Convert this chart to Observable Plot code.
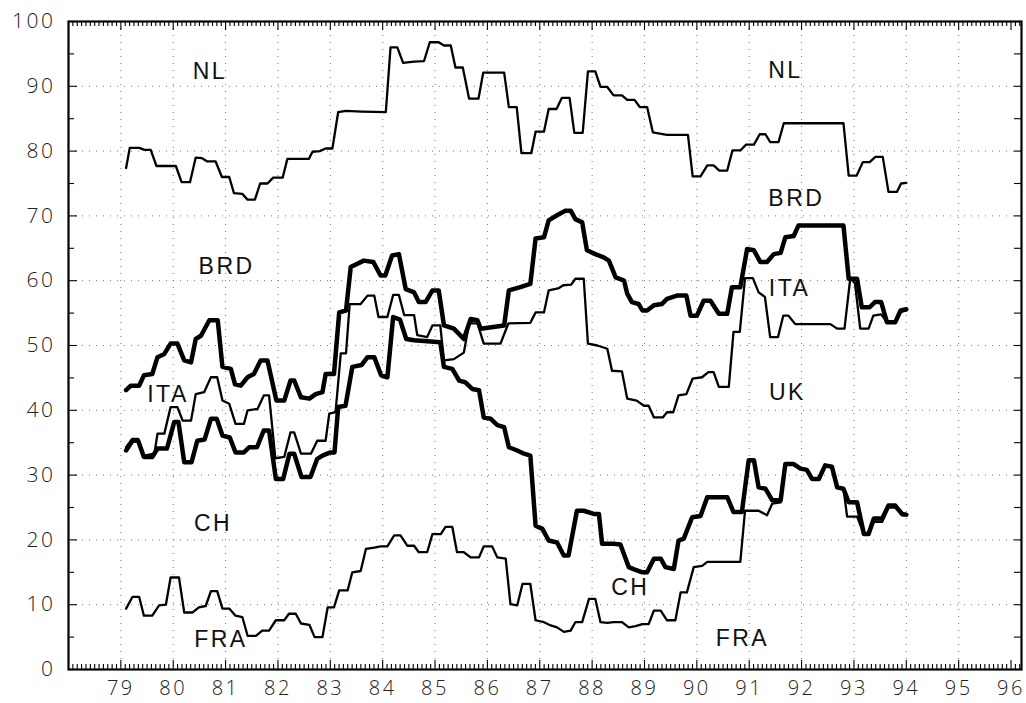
<!DOCTYPE html>
<html><head><meta charset="utf-8">
<script src="https://cdn.jsdelivr.net/npm/d3@7"></script>
<script src="https://cdn.jsdelivr.net/npm/@observablehq/plot@0.6"></script>
<style>
html,body{margin:0;padding:0;background:#fff;}
#chart svg{display:block;background:#fff;}
g[aria-label="y-axis tick label"] text, g[aria-label="x-axis tick label"] text{letter-spacing:2.5px;}
g[aria-label="text"] text{letter-spacing:2.5px;}
</style></head><body><div id="chart"></div>
<script>
// ---- data (years as decimal, e.g. 84.5 = mid 1984) ----
const nlYear = [79.1,79.17,79.35,79.45,79.57,79.68,80.05,80.16,80.32,80.43,80.55,80.65,80.81,80.93,81.07,81.16,81.32,81.42,81.56,81.66,81.8,81.91,82.09,82.18,82.59,82.66,82.8,82.91,83.04,83.15,83.3,83.6,84.06,84.15,84.28,84.39,84.6,84.79,84.9,85.07,85.17,85.3,85.39,85.53,85.65,85.83,85.92,86.32,86.41,86.56,86.65,86.84,86.92,87.08,87.17,87.32,87.42,87.57,87.66,87.82,87.92,88.06,88.16,88.29,88.41,88.57,88.67,88.81,88.91,89.05,89.16,89.43,89.83,89.92,90.07,90.2,90.32,90.43,90.58,90.68,90.83,90.94,91.09,91.2,91.31,91.4,91.56,91.66,92.8,92.9,93.05,93.17,93.3,93.41,93.55,93.66,93.82,93.9,94.0];
const nlValue = [77.4,80.5,80.5,80.2,80.2,77.7,77.7,75.2,75.2,79.0,78.9,78.4,78.4,76.0,76.0,73.5,73.4,72.5,72.5,75.0,75.0,75.9,75.9,78.8,78.8,79.9,80.0,80.4,80.4,86.0,86.2,86.1,86.0,96.0,96.0,93.6,93.8,93.9,96.8,96.8,96.3,96.3,92.9,92.9,88.1,88.1,92.1,92.1,86.8,86.8,79.7,79.7,83.0,83.0,86.5,86.5,88.2,88.2,82.8,82.8,92.3,92.3,89.9,89.9,88.6,88.6,87.9,87.9,86.8,86.8,82.9,82.5,82.5,76.1,76.1,77.8,77.8,77.0,77.0,80.1,80.1,81.0,81.0,82.6,82.6,81.4,81.4,84.3,84.3,76.2,76.2,78.3,78.3,79.1,79.1,73.7,73.7,75.0,75.1];

const brdYear = [79.1,79.19,79.35,79.44,79.6,79.7,79.83,79.95,80.08,80.21,80.34,80.43,80.53,80.69,80.85,80.94,81.1,81.18,81.29,81.42,81.54,81.67,81.8,81.97,82.12,82.24,82.31,82.44,82.6,82.72,82.85,82.91,83.07,83.17,83.3,83.39,83.64,83.82,83.96,84.05,84.18,84.31,84.44,84.6,84.69,84.82,84.95,85.07,85.17,85.36,85.55,85.68,85.81,85.87,86.32,86.41,86.63,86.82,86.92,87.08,87.17,87.33,87.49,87.59,87.68,87.81,87.9,88.06,88.22,88.32,88.45,88.61,88.67,88.76,88.89,88.96,89.05,89.18,89.33,89.43,89.62,89.8,89.88,90.0,90.13,90.26,90.42,90.58,90.67,90.83,90.96,91.09,91.21,91.34,91.47,91.6,91.69,91.85,91.94,92.8,92.9,93.06,93.15,93.3,93.4,93.52,93.63,93.79,93.89,94.0];
const brdValue = [43.1,43.8,43.8,45.4,45.6,48.2,48.7,50.3,50.3,47.7,47.4,51.0,51.5,53.9,53.9,46.7,46.4,44.0,43.8,45.1,45.6,47.7,47.7,41.5,41.5,44.6,44.6,42.0,41.8,42.5,42.8,45.6,45.6,55.1,55.4,62.1,63.1,62.9,60.8,60.8,63.9,64.1,58.7,58.2,56.7,56.7,58.5,58.5,53.1,52.6,51.0,54.1,53.9,52.6,53.1,58.5,59.0,59.5,66.5,66.7,69.3,70.1,70.8,70.8,69.5,69.0,64.7,64.1,63.6,63.1,60.5,60.0,58.0,56.7,56.4,55.4,55.4,56.2,56.4,57.2,57.7,57.7,54.6,54.6,56.9,56.9,54.9,54.9,59.0,59.0,64.9,64.7,62.9,62.9,64.1,64.3,66.7,66.9,68.5,68.5,60.3,60.3,55.9,55.9,56.7,56.7,53.6,53.6,55.4,55.6];

const itaYear = [79.1,79.22,79.33,79.44,79.64,79.7,79.83,79.95,80.08,80.18,80.34,80.43,80.59,80.72,80.84,80.94,81.07,81.19,81.35,81.42,81.61,81.73,81.83,81.95,82.12,82.24,82.31,82.44,82.63,82.75,82.91,82.98,83.1,83.2,83.3,83.37,83.58,83.71,83.84,83.92,84.09,84.2,84.31,84.41,84.6,84.66,84.85,84.95,85.1,85.17,85.36,85.55,85.65,85.81,85.93,86.25,86.4,86.82,86.92,87.08,87.17,87.35,87.45,87.6,87.68,87.84,87.92,88.1,88.29,88.38,88.57,88.67,88.85,88.99,89.08,89.18,89.35,89.43,89.55,89.65,89.8,89.92,90.1,90.22,90.32,90.42,90.61,90.7,90.82,90.92,91.07,91.18,91.3,91.4,91.55,91.65,91.75,91.88,92.55,92.68,92.82,92.93,93.02,93.12,93.28,93.37,93.52,93.63,93.79,93.9,94.0];
const itaValue = [34.3,35.6,35.6,33.0,33.3,36.4,36.4,40.5,40.5,38.4,38.4,42.5,42.8,45.1,45.1,41.5,41.0,37.9,37.9,40.0,40.2,42.3,42.3,32.6,32.8,36.6,36.6,33.3,33.3,35.3,35.3,39.5,39.7,48.8,48.8,56.4,56.4,57.7,57.7,54.4,54.4,57.8,57.8,54.7,54.7,51.6,51.3,53.1,53.1,47.7,47.9,48.9,53.4,53.4,50.3,50.3,53.4,53.5,55.1,55.1,58.5,58.8,59.3,59.4,60.3,60.3,50.3,50.0,49.5,46.1,46.0,41.8,41.5,40.7,40.7,38.9,38.9,39.7,39.7,42.3,42.5,44.9,45.1,45.9,45.9,43.6,43.6,52.1,52.1,60.4,60.4,58.2,57.5,51.3,51.3,54.6,54.6,53.3,53.3,52.6,52.6,60.4,59.6,52.6,52.6,54.6,54.8,53.6,53.6,55.2,55.4];

const chYear = [79.1,79.22,79.33,79.44,79.6,79.7,79.88,80.02,80.1,80.21,80.35,80.46,80.6,80.72,80.83,80.94,81.08,81.19,81.35,81.45,81.6,81.73,81.83,81.96,82.1,82.22,82.31,82.45,82.62,82.75,82.85,83.0,83.08,83.15,83.29,83.42,83.6,83.71,83.84,83.97,84.09,84.2,84.33,84.45,84.6,85.1,85.17,85.33,85.46,85.58,85.71,85.84,85.93,86.06,86.19,86.32,86.41,86.57,86.7,86.82,86.92,87.05,87.17,87.33,87.46,87.55,87.71,87.84,88.03,88.13,88.19,88.41,88.54,88.7,88.79,88.96,89.05,89.18,89.31,89.4,89.56,89.65,89.75,89.91,90.07,90.2,90.58,90.7,90.86,90.99,91.09,91.18,91.31,91.44,91.6,91.69,91.85,91.98,92.1,92.2,92.33,92.45,92.58,92.68,92.8,92.9,93.06,93.19,93.28,93.38,93.54,93.66,93.79,93.92,94.0];
const chValue = [33.8,35.3,35.3,32.8,32.8,34.1,34.1,38.2,38.2,32.0,32.0,35.3,35.5,38.7,38.7,36.1,35.8,33.5,33.5,34.3,34.3,36.9,36.9,29.4,29.4,33.3,33.3,29.7,29.7,32.5,33.0,33.5,33.5,40.5,40.7,46.7,47.0,48.2,48.2,45.4,45.1,54.4,54.0,51.0,50.8,50.5,46.7,46.4,44.6,44.3,43.3,43.1,38.9,38.7,37.7,37.4,34.3,33.8,33.3,33.0,22.2,21.7,19.9,19.6,17.6,17.6,24.5,24.5,24.0,24.0,19.4,19.4,19.3,15.8,15.5,15.0,15.0,17.1,17.1,15.8,15.5,19.9,20.2,23.5,23.7,26.6,26.6,24.3,24.3,32.3,32.3,28.1,27.9,26.1,26.1,31.7,31.7,31.0,30.8,29.4,29.4,31.5,31.3,28.1,27.9,25.8,25.8,20.9,20.9,23.3,23.3,25.3,25.3,24.0,23.9];

const fraYear = [79.1,79.22,79.35,79.44,79.6,79.73,79.86,79.95,80.11,80.21,80.37,80.49,80.62,80.72,80.84,80.94,81.07,81.19,81.32,81.42,81.58,81.7,81.83,81.96,82.12,82.21,82.34,82.44,82.6,82.7,82.85,82.95,83.07,83.17,83.33,83.42,83.58,83.68,83.84,83.96,84.09,84.22,84.34,84.47,84.6,84.69,84.85,84.95,85.11,85.2,85.33,85.42,85.55,85.68,85.84,85.93,86.09,86.19,86.35,86.44,86.57,86.67,86.82,86.92,87.08,87.21,87.33,87.46,87.59,87.68,87.81,87.94,88.06,88.16,88.29,88.41,88.57,88.7,88.83,88.96,89.08,89.18,89.31,89.43,89.59,89.69,89.81,89.94,90.1,90.2,90.83,90.92,91.18,91.34,91.44,91.6,91.69,91.85,91.98,92.1,92.2,92.33,92.45,92.58,92.68,92.8,92.87,93.06,93.19,93.28,93.38,93.54,93.66,93.79,93.92,94.0];
const fraValue = [9.4,11.2,11.2,8.3,8.3,9.9,10.0,14.2,14.2,8.8,8.8,9.6,9.8,12.1,12.1,9.4,9.4,8.3,8.1,5.2,5.2,6.0,6.0,7.6,7.6,8.6,8.6,7.1,6.9,5.0,5.0,9.6,9.6,12.2,12.2,15.0,15.2,18.6,18.8,19.0,19.0,20.7,20.7,19.1,19.1,18.1,18.1,20.9,20.9,22.0,22.0,18.1,18.1,17.3,17.3,19.0,19.0,17.3,17.1,10.1,9.9,13.2,13.2,7.6,7.3,6.8,6.5,5.8,6.0,7.3,7.3,10.9,10.9,7.3,7.2,7.3,7.3,6.5,6.7,7.0,7.0,9.1,9.1,7.6,7.6,11.9,11.9,15.8,16.0,16.6,16.6,24.5,24.5,23.8,25.6,25.8,31.7,31.7,31.0,30.8,29.4,29.4,31.5,31.3,28.1,27.9,23.6,23.6,20.9,20.9,22.8,22.8,25.0,25.0,23.8,23.8];

const yTickValues = [0,10,20,30,40,50,60,70,80,90,100];
const xTickValues = [79,80,81,82,83,84,85,86,87,88,89,90,91,92,93,94,95,96];

const labelText = ["NL","BRD","ITA","CH","FRA","NL","BRD","ITA","UK","CH","FRA"];
const labelYear = [80.70,81.02,79.90,80.76,80.91,91.69,91.90,91.77,91.73,88.73,90.87];
const labelValue = [92.2,62.1,42.4,22.5,4.6,92.4,72.6,58.7,42.8,12.7,4.7];

// ---- build tables ----
const rows = (name, ys, vs) => ys.map((y, i) => ({series: name, year: y, value: vs[i]}));
const thinData = [...rows("NL", nlYear, nlValue), ...rows("ITA", itaYear, itaValue), ...rows("FRA", fraYear, fraValue)];
const thickData = [...rows("BRD", brdYear, brdValue), ...rows("CH", chYear, chValue)];
const labels = labelText.map((t, i) => ({text: t, year: labelYear[i], value: labelValue[i]}));

// ---- layout ----
const W = 1026, H = 703, mL = 68, mR = 5, mT = 21, mB = 34;
const xDom = [78, 96.2], yDom = [0, 100];
const pxX = (W - mL - mR) / (xDom[1] - xDom[0]);
const pxY = (H - mT - mB) / (yDom[1] - yDom[0]);
const allMonths = d3.range(0, 219).map(i => xDom[0] + i / 12).filter(v => v <= xDom[1] + 1e-9);
const monthTicks = allMonths.filter(v => Math.abs(v - Math.round(v)) > 1e-6);
const yearTicks = d3.range(79, 97);
const tickLine = {stroke: "#000", strokeWidth: 1.1};

const chart = Plot.plot({
  width: W, height: H,
  marginLeft: mL, marginRight: mR, marginTop: mT, marginBottom: mB,
  x: {domain: xDom, label: null},
  y: {domain: yDom, label: null},
  style: {fontFamily: "'Open Sans', 'Liberation Sans', sans-serif", background: "#fff"},
  marks: [
    Plot.ruleY(d3.range(10, 100, 10), {stroke: "#777", strokeWidth: 1, strokeDasharray: "1,6"}),
    Plot.ruleX(d3.range(79, 96), {stroke: "#777", strokeWidth: 1, strokeDasharray: "1,6"}),
    // inward ticks
    Plot.ruleX(monthTicks, {x: d => d, y1: yDom[0], y2: yDom[0] + 5 / pxY, ...tickLine}),
    Plot.ruleX(yearTicks, {x: d => d, y1: yDom[0], y2: yDom[0] + 9 / pxY, ...tickLine}),
    Plot.ruleX(monthTicks, {x: d => d, y1: yDom[1], y2: yDom[1] - 5 / pxY, ...tickLine}),
    Plot.ruleX(yearTicks, {x: d => d, y1: yDom[1], y2: yDom[1] - 9 / pxY, ...tickLine}),
    Plot.ruleY(d3.range(10, 100, 10), {y: d => d, x1: xDom[0], x2: xDom[0] + 9 / pxX, ...tickLine}),
    Plot.ruleY(d3.range(5, 100, 10), {y: d => d, x1: xDom[0], x2: xDom[0] + 6 / pxX, ...tickLine}),
    Plot.ruleY(d3.range(5, 100, 5), {y: d => d, x1: xDom[1] - 7 / pxX, x2: xDom[1], ...tickLine}),
    // series
    Plot.line(thinData, {x: "year", y: "value", z: "series", stroke: "#000", strokeWidth: 2.3, strokeLinejoin: "round", strokeLinecap: "round"}),
    Plot.line(thickData, {x: "year", y: "value", z: "series", stroke: "#000", strokeWidth: 4.5, strokeLinejoin: "round", strokeLinecap: "round"}),
    Plot.frame({stroke: "#000", strokeWidth: 2.2}),
    Plot.axisY({ticks: yTickValues, tickSize: 0, tickPadding: 13, fontSize: 21, fontWeight: 300, color: "#222", tickFormat: d => String(d)}),
    Plot.axisX({ticks: xTickValues, tickSize: 0, tickPadding: 11, fontSize: 20, fontWeight: 300, color: "#222", tickFormat: d => String(d)}),
    Plot.text(labels, {x: "year", y: "value", text: "text", fontSize: 23, fontFamily: "'Liberation Sans', Arial, sans-serif", fill: "#111", textAnchor: "middle"})
  ]
});
document.getElementById("chart").appendChild(chart);
</script>
</body></html>
